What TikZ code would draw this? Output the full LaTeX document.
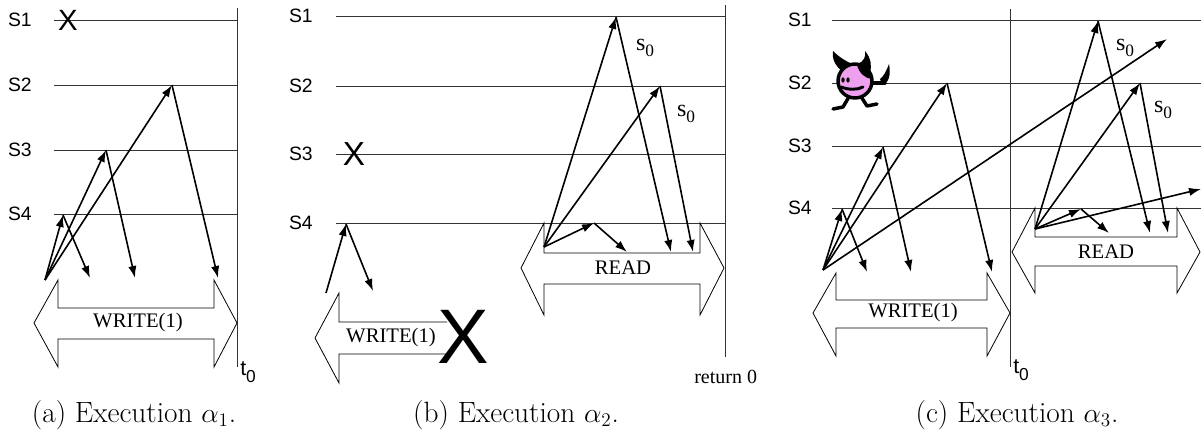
\documentclass[tikz,border=0pt]{standalone}
\usepackage{fontspec}
\newfontfamily\hv{Liberation Sans}
\newfontfamily\tm{Liberation Serif}
\usetikzlibrary{arrows.meta}
\begin{document}
\begin{tikzpicture}[x=0.75pt,y=-0.75pt,
  proc/.style={draw=black!80,line width=0.75pt},
  msg/.style={draw=black,line width=1.2pt,-{Latex[length=9pt,width=6.2pt]}},
  opbox/.style={draw=black,line width=0.6pt},
  slabel/.style={font=\hv\fontsize{14.5}{16}\selectfont,anchor=east,inner sep=0pt},
  oplabel/.style={font=\tm\fontsize{15.5}{17}\selectfont,inner sep=0pt},
  crash/.style={font=\hv\fontsize{22}{24}\selectfont,inner sep=0pt},
  caption/.style={font=\fontsize{22}{26}\selectfont,inner sep=0pt,anchor=base},
  tlabel/.style={font=\hv\fontsize{16}{18}\selectfont,inner sep=0pt,anchor=west},
  slab/.style={font=\tm\fontsize{18}{20}\selectfont,inner sep=0pt}]
\useasboundingbox (0,0) rectangle (1201,432);
\newcommand{\subz}{\raisebox{-5pt}{\fontsize{13}{13}\selectfont 0}}

% ---------------- (a) ----------------
\node[slabel] (a1) at (32,20) {S1};
\node[slabel] (a2) at (32,85) {S2};
\node[slabel] (a3) at (32,150) {S3};
\node[slabel] (a4) at (32,214) {S4};
\foreach \y in {20,85,150,214} \draw[proc] (54,\y) -- (237,\y);
\draw[proc] (237,8) -- (237,367);
\node[crash] (ax) at (68,20) {X};
\draw[opbox] (34,323) -- (58,280) -- (58,308) -- (214,308) -- (214,280) -- (237,323)
  -- (214,367) -- (214,339) -- (58,339) -- (58,367) -- cycle;
\node[oplabel] (aw) at (138,323) {WRITE(1)};
\coordinate (aO) at (45,280);
\coordinate (aP4) at (63,215);
\coordinate (aP3) at (106,150);
\coordinate (aP2) at (172,85);
\coordinate (aR4) at (90,278);
\coordinate (aR3) at (135,278);
\coordinate (aR2) at (218,278);
\draw[msg] (aO) -- (aP4);
\draw[msg] (aO) -- (aP3);
\draw[msg] (aO) -- (aP2);
\draw[msg] (aP4) -- (aR4);
\draw[msg] (aP3) -- (aR3);
\draw[msg] (aP2) -- (aR2);
\node[tlabel] (at0) at (240,372) {t\subz};
\node[caption] (acap) at (134,422) {(a) Execution $\alpha_1$.};

% ---------------- (b) ----------------
\node[slabel] (b1) at (313,16) {S1};
\node[slabel] (b2) at (313,86) {S2};
\node[slabel] (b3) at (313,154) {S3};
\node[slabel] (b4) at (313,223) {S4};
\foreach \y in {16,86,154,223} \draw[proc] (336,\y) -- (725,\y);
\draw[proc] (725,5) -- (725,357);
\node[crash,font=\hv\fontsize{25}{27}\selectfont] (bx) at (354,154) {X};
% crashed write
\draw[opbox] (447,322) -- (339,322) -- (339,293) -- (315,338) -- (339,383) -- (339,354) -- (447,354);
\node[oplabel] (bw) at (391,338) {WRITE(1)};
\node[crash,font=\hv\fontsize{58}{60}\selectfont] (bbx) at (463,337) {X};
\coordinate (bO) at (326,293);
\coordinate (bP4) at (346,224);
\coordinate (bR4) at (373,291);
\draw[msg] (bO) -- (bP4);
\draw[msg] (bP4) -- (bR4);
% read
\draw[opbox] (521,268) -- (544,223) -- (544,253) -- (700,253) -- (700,223) -- (724,268)
  -- (700,315) -- (700,284) -- (544,284) -- (544,315) -- cycle;
\node[oplabel] (br) at (623,268) {READ};
\coordinate (bQ) at (544,247);
\coordinate (bQ1) at (616,17);
\coordinate (bQ2) at (660,86);
\coordinate (bQ4) at (594,223);
\coordinate (bS4) at (627,252);
\coordinate (bS1) at (671,252);
\coordinate (bS2) at (693,252);
\draw[msg] (bQ) -- (bQ1);
\draw[msg] (bQ) -- (bQ2);
\draw[msg] (bQ) -- (bQ4);
\draw[msg] (bQ4) -- (bS4);
\draw[msg] (bQ1) -- (bS1);
\draw[msg] (bQ2) -- (bS2);
\node[slab] (bs1) at (645,48) {s\subz};
\node[slab] (bs2) at (686,114) {s\subz};
\node[oplabel,anchor=west,font=\tm\fontsize{15}{17}\selectfont] (bret) at (694,377) {return 0};
\node[caption] (bcap) at (516,422) {(b) Execution $\alpha_2$.};

% ---------------- (c) ----------------
\node[slabel] (c1) at (812,20) {S1};
\node[slabel] (c2) at (812,83) {S2};
\node[slabel] (c3) at (812,146) {S3};
\node[slabel] (c4) at (812,208) {S4};
\foreach \y in {20,83,146,208} \draw[proc] (832,\y) -- (1201,\y);
\draw[proc] (1010,9) -- (1010,367);
\draw[opbox] (813,313) -- (836,273) -- (836,300) -- (987,300) -- (987,273) -- (1010,313)
  -- (987,356) -- (987,328) -- (836,328) -- (836,356) -- cycle;
\node[oplabel] (cw) at (913,313) {WRITE(1)};
\coordinate (cO) at (823,270);
\coordinate (cP4) at (842,209);
\coordinate (cP3) at (883,147);
\coordinate (cP2) at (947,83);
\coordinate (cF) at (1167,39);
\coordinate (cR4) at (867,272);
\coordinate (cR3) at (911,272);
\coordinate (cR2) at (992,272);
\draw[msg] (cO) -- (cP4);
\draw[msg] (cO) -- (cP3);
\draw[msg] (cO) -- (cP2);
\draw[msg] (cO) -- (cF);
\draw[msg] (cP4) -- (cR4);
\draw[msg] (cP3) -- (cR3);
\draw[msg] (cP2) -- (cR2);
\draw[opbox] (1012,252) -- (1035,208) -- (1035,237) -- (1177,237) -- (1177,208) -- (1200,252)
  -- (1177,293) -- (1177,266) -- (1035,266) -- (1035,293) -- cycle;
\node[oplabel] (cr) at (1106,252) {READ};
\coordinate (cQ) at (1035,229);
\coordinate (cQ1) at (1098,21);
\coordinate (cQ2) at (1140,83);
\coordinate (cQ4) at (1081,209);
\coordinate (cG) at (1201,189);
\coordinate (cS4) at (1109,233);
\coordinate (cS1) at (1150,233);
\coordinate (cS2) at (1168,233);
\draw[msg] (cQ) -- (cQ1);
\draw[msg] (cQ) -- (cQ2);
\draw[msg] (cQ) -- (cQ4);
\draw[msg] (cQ) -- (cG);
\draw[msg] (cQ4) -- (cS4);
\draw[msg] (cQ1) -- (cS1);
\draw[msg] (cQ2) -- (cS2);
\node[slab] (cs1) at (1125,48) {s\subz};
\node[slab] (cs2) at (1163,110) {s\subz};
\node[tlabel] (ct0) at (1013,370) {t\subz};
\node[caption] (ccap) at (1017,422) {(c) Execution $\alpha_3$.};

% the little devil on S2
\begin{scope}[shift={(855,81)}, line join=round, line cap=round]
  % arm and pitchfork-like hand
  \draw[line width=2.4pt] (14,2) -- (30,2);
  \fill (27,4) .. controls (34,2) and (36,-6) .. (34,-17) .. controls (31,-9) and (28,-4) .. (25,-2) -- cycle;
  % legs and feet
  \draw[line width=2.6pt] (-5,14) -- (-12,26) -- (-22,28);
  \draw[line width=2.6pt] (5,14) -- (12,25) -- (22,23);
  % horns
  \fill (-12,-9) .. controls (-21,-16) and (-23,-23) .. (-22,-30) .. controls (-15,-23) and (-9,-20) .. (-3,-17) -- cycle;
  \fill (3,-17) .. controls (9,-20) and (11,-24) .. (10,-30) .. controls (16,-23) and (17,-15) .. (15,-8) -- cycle;
  % body
  \draw[line width=2.6pt, fill={rgb,255:red,238;green,160;blue,238}] (0,0) circle (17);
  % dark patch on the head
  \fill (2,-16) .. controls (11,-16) and (16,-8) .. (16,-2) .. controls (10,-3) and (4,-8) .. (2,-16) -- cycle;
  % eyes and mouth
  \fill (-12,-1) ellipse (1.7 and 2.6);
  \fill (-7,-1) ellipse (1.7 and 2.6);
  \draw[line width=2.2pt] (-14,6) .. controls (-6,9) and (2,9) .. (8,6);
\end{scope}
\end{tikzpicture}
\end{document}
